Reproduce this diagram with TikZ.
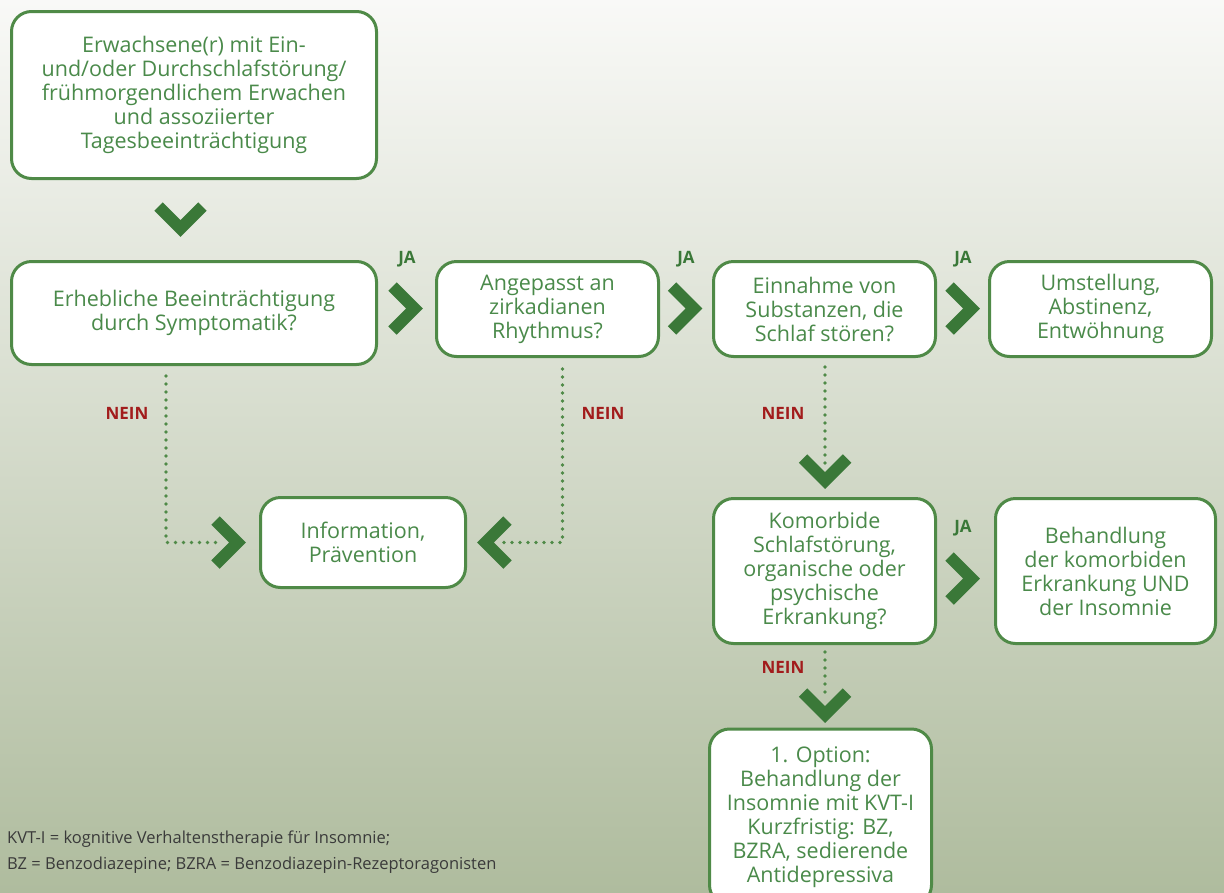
\documentclass[tikz,border=0pt]{standalone}
\usepackage{fontspec}
\setmainfont{Open Sans}
\usepackage{tikz}
\usetikzlibrary{calc}
\definecolor{boxgreen}{HTML}{4F8A47}
\definecolor{txtgreen}{HTML}{4A8A4A}
\definecolor{chevgreen}{HTML}{3A7838}
\definecolor{neinred}{HTML}{A21C1C}
\definecolor{bgtop}{HTML}{F9F9F7}
\definecolor{bgmid}{HTML}{DDE1D3}
\definecolor{bgbot}{HTML}{AFBC9E}
\definecolor{notegrey}{HTML}{3A3A3A}
\newcommand{\chevR}[1]{\draw[chev] (#1) ++(-22,-22) -- (#1) -- ++(-22,22);}
\newcommand{\chevL}[1]{\draw[chev] (#1) ++(22,-22) -- (#1) -- ++(22,22);}
\newcommand{\chevD}[1]{\draw[chev] (#1) ++(-22,-22) -- (#1) -- ++(22,-22);}
\tikzset{
  stepbox/.style={draw=boxgreen, line width=3pt, rounded corners=20pt, fill=white,
    text=txtgreen, align=center, inner sep=0pt, font=\fontsize{21.5}{24}\selectfont},
  chev/.style={draw=chevgreen, line width=12pt, line join=miter, line cap=butt},
  dotline/.style={draw=boxgreen, line width=3.6pt, line cap=round, dash pattern=on 0pt off 8pt},
  ja/.style={text=chevgreen, font=\bfseries\fontsize{17}{18}\selectfont},
  nein/.style={text=neinred, font=\bfseries\fontsize{17}{18}\selectfont},
  note/.style={text=notegrey, align=left, inner sep=0pt, font=\fontsize{16.5}{26}\selectfont}
}
\begin{document}
\begin{tikzpicture}[x=1pt, y=-1pt]
    \useasboundingbox (0,0) rectangle (1224,892);
    \shade[top color=bgtop, middle color=bgmid, bottom color=bgbot] (0,0) rectangle (1224,892);
    % top row
    \node[stepbox, minimum width=365, minimum height=167] (start) at (194,95)
      {Erwachsene(r) mit Ein-\\und/oder Durchschlafstörung/\\frühmorgendlichem Erwachen\\und assoziierter\\Tagesbeeinträchtigung};
    \node[stepbox, minimum width=365, minimum height=103] (sym) at (194,313)
      {Erhebliche Beeinträchtigung\\durch Symptomatik?};
    \node[stepbox, minimum width=222, minimum height=95] (rhythm) at (547.5,309)
      {Angepasst an\\zirkadianen\\Rhythmus?};
    \node[stepbox, minimum width=222, minimum height=95] (subst) at (824.5,309)
      {Einnahme von\\Substanzen, die\\Schlaf stören?};
    \node[stepbox, minimum width=222, minimum height=95] (umst) at (1100.5,309)
      {Umstellung,\\Abstinenz,\\Entwöhnung};
    % middle row
    \node[stepbox, minimum width=205, minimum height=90] (info) at (363,542.5)
      {Information,\\Prävention};
    \node[stepbox, minimum width=222, minimum height=145] (komorb) at (824.5,571)
      {Komorbide\\Schlafstörung,\\organische oder\\psychische\\Erkrankung?};
    \node[stepbox, minimum width=220, minimum height=145] (behand) at (1105.5,571)
      {Behandlung\\der komorbiden\\Erkrankung UND\\der Insomnie};
    % bottom
    \node[stepbox, minimum width=222, minimum height=176] (option) at (820.5,817)
      {1. Option:\\Behandlung der\\Insomnie mit KVT-I\\Kurzfristig: BZ,\\BZRA, sedierende\\Antidepressiva};
    % chevron tips
    \coordinate (tstart) at (180.5,228.5);
    \coordinate (trhythm) at (414.5,308.5);
    \coordinate (tsubst) at (694,308.5);
    \coordinate (tumst) at (971.5,308.5);
    \coordinate (tinL) at (237.5,542.5);
    \coordinate (tinR) at (485.5,542.5);
    \coordinate (tkom) at (825,480.5);
    \coordinate (tbeh) at (971.5,578.5);
    \coordinate (topt) at (825,714.5);
    % dotted
    \draw[dotline] ([xshift=-28pt,yshift=-10pt]sym.south) |- ([xshift=-18pt]tinL);
    \draw[dotline] ([xshift=15pt,yshift=-11pt]rhythm.south) |- ([xshift=17pt]tinR);
    \draw[dotline] ([xshift=0.5pt,yshift=-9pt]subst.south) -- ([yshift=17pt]tkom);
    \draw[dotline] ([xshift=0.5pt,yshift=-7pt]komorb.south) -- ([yshift=17pt]topt);
    % chevrons
    \chevD{tstart}
    \chevR{trhythm}
    \chevR{tsubst}
    \chevR{tumst}
    \chevR{tinL}
    \chevL{tinR}
    \chevD{tkom}
    \chevR{tbeh}
    \chevD{topt}
    % labels
    \node[ja] (ja1) at (407,259) {JA};
    \node[ja] (ja2) at (686,259) {JA};
    \node[ja] (ja3) at (963,259) {JA};
    \node[ja] (ja4) at (963,528) {JA};
    \node[nein] (nein1) at (127,413) {NEIN};
    \node[nein] (nein2) at (603,413) {NEIN};
    \node[nein] (nein3) at (783,413) {NEIN};
    \node[nein] (nein4) at (783,667) {NEIN};
    \node[note, anchor=north west] (note) at (7,831)
      {KVT-I = kognitive Verhaltenstherapie für Insomnie;\\BZ = Benzodiazepine; BZRA = Benzodiazepin-Rezeptoragonisten};
\end{tikzpicture}
\end{document}
